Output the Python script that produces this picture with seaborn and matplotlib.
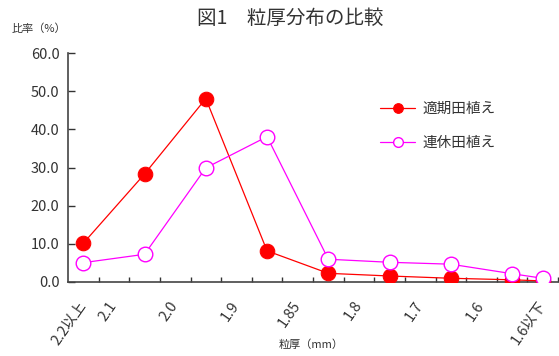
import numpy as np
import pandas as pd
import matplotlib
matplotlib.use("Agg")
import matplotlib.pyplot as plt
import matplotlib.transforms as mtransforms
import seaborn as sns

# ---- data ----
categories = ["2.2以上", "", "2.1", "", "2.0", "", "1.9", "", "1.85", "", "1.8", "", "1.7", "", "1.6", "1.6以下"]
tick_labels = ["2.2以上", "2.1", "", "2.0", "", "1.9", "", "1.85", "", "1.8", "", "1.7", "", "1.6", "", "1.6以下"]
series_names = ["適期田植え", "連休田植え"]
data_index = [0, 2, 4, 6, 8, 10, 12, 14, 15]
tekiki = [10.1, 28.3, 48.1, 8.1, 2.2, 1.5, 0.9, 0.5, 0.2]
renkyu = [5.0, 7.2, 29.9, 38.1, 5.9, 5.1, 4.6, 2.1, 0.9]

title = "図1　粒厚分布の比較"
y_title = "比率（%）"
x_title = "粒厚（mm）"

sns.set_style("white")
plt.rcParams["font.family"] = ["Noto Sans CJK JP", "DejaVu Sans"]

df = pd.DataFrame({
    "pos": data_index * 2,
    "value": tekiki + renkyu,
    "series": [series_names[0]] * len(tekiki) + [series_names[1]] * len(renkyu),
})

fig = plt.figure(figsize=(5.59, 3.56), dpi=100)
ax = fig.add_axes([68 / 559, 1 - 281.7 / 356, (558 - 68) / 559, (281.7 - 53.3) / 356])

d1 = df[df.series == series_names[0]]
d2 = df[df.series == series_names[1]]
sns.lineplot(data=d1, x="pos", y="value", ax=ax, color="#FF0000", lw=0.9,
             marker="o", markersize=10.5, markerfacecolor="#FF0000",
             markeredgecolor="#FF0000", label=series_names[0], zorder=3)
sns.lineplot(data=d2, x="pos", y="value", ax=ax, color="#FF00FF", lw=0.9,
             marker="o", markersize=10.5, markerfacecolor="white",
             markeredgecolor="#FF00FF", markeredgewidth=1.0,
             label=series_names[1], zorder=4)

ax.set_xlim(-0.5, len(categories) - 0.5)
ax.set_ylim(0, 60)
ax.set_yticks(np.arange(0, 61, 10))
ax.set_yticklabels([f"{v:.1f}" for v in np.arange(0, 61, 10)], fontsize=10.5, color="#333333")

# category labels at category centres
ax.set_xticks(np.arange(len(categories)))
ax.set_xticklabels(tick_labels, rotation=55, ha="right", va="center",
                   rotation_mode="anchor", fontsize=10.5, color="#333333")
ax.tick_params(axis="x", which="major", length=0, pad=15)
ax.tick_params(axis="y", which="major", left=True, direction="in", length=4,
               width=1.0, color="#333333", pad=6)
for t in ax.yaxis.get_major_ticks():
    t.tick1line.set_visible(True)
    t.tick1line.set_markeredgecolor("#333333")
    t.tick1line.set_markeredgewidth(1.0)
    t.tick1line.set_markersize(5)

# category boundary tick marks (inward) along the bottom axis
trans = mtransforms.blended_transform_factory(ax.transData, ax.transAxes)
ax.vlines(np.arange(0.5, len(categories), 1), 0, 5 / 228.4, transform=trans,
          colors="#333333", linewidth=1.0, clip_on=False, zorder=2)

for s in ["top", "right"]:
    ax.spines[s].set_visible(False)
for s in ["left", "bottom"]:
    ax.spines[s].set_color("#444444")
    ax.spines[s].set_linewidth(1.2)

ax.set_xlabel("")
ax.set_ylabel("")
fig.text(311 / 559, 1 - 345 / 356, x_title, ha="center", va="center", fontsize=8, color="#333333")
fig.text(12 / 559, 1 - 29 / 356, y_title, ha="left", va="center", fontsize=8, color="#333333")
fig.text(290 / 559, 1 - 18 / 356, title, ha="center", va="center", fontsize=14, color="#333333")

leg = ax.legend(loc="upper left", bbox_to_anchor=(373 / 559, 1 - 95 / 356),
                bbox_transform=fig.transFigure, frameon=False, fontsize=10.5,
                handlelength=2.4, handletextpad=0.5, labelspacing=1.35, borderpad=0)
for h in leg.legend_handles:
    h.set_markersize(7)
for t in leg.get_texts():
    t.set_color("#333333")

fig.savefig("out.png", dpi=100)
